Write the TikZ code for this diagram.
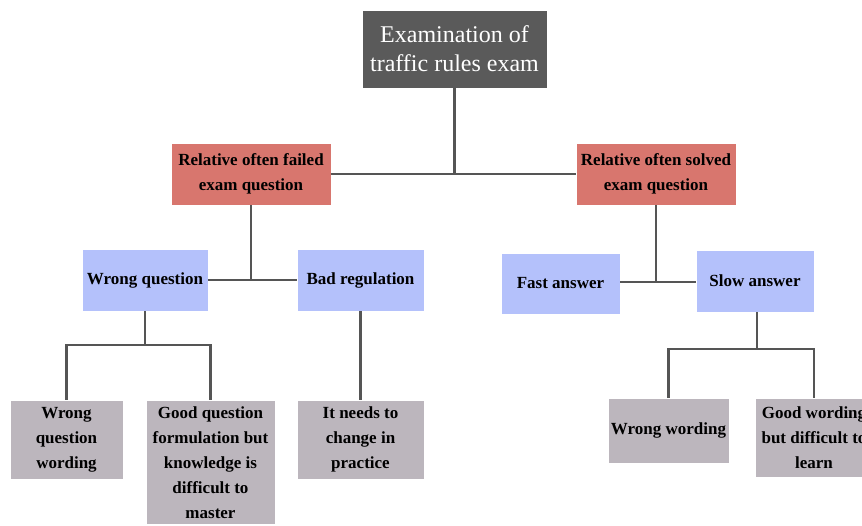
\documentclass[tikz,border=0pt]{standalone}
\usepackage{fontspec}
\setmainfont{Liberation Serif}
\usepackage{tikz}
\usetikzlibrary{positioning}

\definecolor{rootgray}{HTML}{5A5A5A}
\definecolor{failred}{HTML}{D8766E}
\definecolor{qblue}{HTML}{B4C1FB}
\definecolor{leafgray}{HTML}{BCB6BD}
\definecolor{linegray}{HTML}{555555}

\tikzset{
    box/.style = {rectangle, inner sep=0pt, align=center, draw=white, line width=0.6pt},
    root/.style = {box, fill=rootgray, text=white, font=\fontsize{24}{29}\selectfont},
    branch/.style = {box, fill=failred, font=\fontsize{17}{25}\selectfont\bfseries},
    cause/.style = {box, fill=qblue, font=\fontsize{17}{25}\selectfont\bfseries},
    leaf/.style = {box, fill=leafgray, font=\fontsize{17}{25}\selectfont\bfseries},
    link/.style = {draw=linegray, line width=2.4pt}
}

\begin{document}
\begin{tikzpicture}[x=1pt, y=-1pt]
    \useasboundingbox (0,0) rectangle (862,525);
    % top
    \node(top) [root, minimum width=185pt, minimum height=78pt] at (454.5,49) {Examination of\\traffic rules exam};
    % second row
    \node(fail) [branch, minimum width=160pt, minimum height=62pt] at (251,174) {Relative often failed\\exam question};
    \node(solved) [branch, minimum width=160pt, minimum height=62pt] at (656,174) {Relative often solved\\exam question};
    % third row
    \node(wrongq) [cause, minimum width=126pt, minimum height=62pt] at (145,280) {Wrong question};
    \node(badreg) [cause, minimum width=127pt, minimum height=62pt] at (360.5,280) {Bad regulation};
    \node(fast) [cause, minimum width=119pt, minimum height=61pt] at (560.5,283.5) {Fast answer};
    \node(slow) [cause, minimum width=118pt, minimum height=62pt] at (755,281) {Slow answer};
    % leaves
    \node(wqword) [leaf, minimum width=113pt, minimum height=79pt] at (66.5,439.5) {Wrong\\question\\wording};
    \node(goodq) [leaf, minimum width=129pt, minimum height=124pt, anchor=north] at (210.5,400) {Good question\\formulation but\\knowledge is\\difficult to\\master};
    \node(change) [leaf, minimum width=127pt, minimum height=79pt] at (360.5,439.5) {It needs to\\change in\\practice};
    \node(wword) [leaf, minimum width=121pt, minimum height=65pt] at (668.5,430.5) {Wrong wording};
    \node(goodw) [leaf, minimum width=118pt, minimum height=79pt] at (814,437.5) {Good wording\\but difficult to\\learn};

    % connectors
    \draw[link] (top.south) -- (top.south |- fail.east);
    \draw[link] (fail.east) -- (solved.west);
    \draw[link] (fail.south) -- (fail.south |- wrongq.east);
    \draw[link] (wrongq.east) -- (badreg.west);
    \coordinate (fsjoin) at (656,282);
    \draw[link] (solved.south) -- (fsjoin);
    \draw[link] (fast.east |- fsjoin) -- (slow.west |- fsjoin);

    \coordinate (wqjoin) at (145,345);
    \draw[link] (wrongq.south) -- (wqjoin);
    \draw[link] (wqword.north) |- (wqjoin) -| (goodq.north);
    \draw[link] (badreg.south) -- (change.north);

    \coordinate (slowjoin) at (757,349);
    \draw[link] (slow.south -| slowjoin) -- (slowjoin);
    \draw[link] (wword.north) |- (slowjoin) -| (goodw.north);
\end{tikzpicture}
\end{document}
